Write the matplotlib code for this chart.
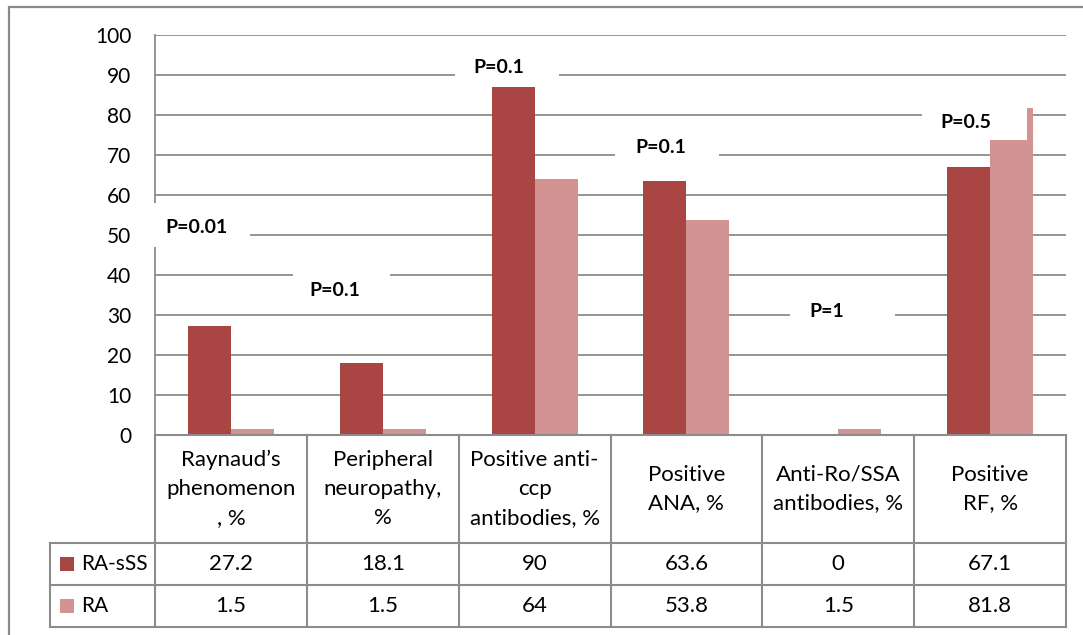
import matplotlib
matplotlib.use("Agg")
import matplotlib.pyplot as plt
from matplotlib.patches import Rectangle

plt.rcParams["font.family"] = ["Lato", "DejaVu Sans"]

# ----------------------------------------------------------------------
# データ
categories = [
    "Raynaud’s\nphenomenon\n, %",
    "Peripheral\nneuropathy,\n%",
    "Positive anti-\nccp\nantibodies, %",
    "Positive\nANA, %",
    "Anti-Ro/SSA\nantibodies, %",
    "Positive\nRF, %",
]
series_names = ["RA-sSS", "RA"]
ra_sss = [27.2, 18.1, 90, 63.6, 0, 67.1]
ra = [1.5, 1.5, 64, 53.8, 1.5, 81.8]
p_labels = ["P=0.01", "P=0.1", "P=0.1", "P=0.1", "P=1", "P=0.5"]
# テキストボックス（x0, x1, y0, y1: カテゴリ単位 / 値単位）と文字位置
p_boxes = [
    (-0.53, 0.126, 47.0, 58.0),
    (0.409, 1.048, 31.3, 42.5),
    (1.476, 2.161, 87.0, 96.2),
    (2.530, 3.215, 66.2, 76.8),
    (3.683, 4.375, 26.2, 36.2),
    (4.553, 5.244, 73.8, 85.0),
]
p_text_pos = [
    (-0.434, 51.8),
    (0.517, 36.2),
    (1.595, 91.8),
    (2.662, 71.8),
    (3.808, 30.8),
    (4.675, 78.2),
]

C_SSS = "#A94543"
C_RA = "#D39392"
GRID = "#8C8C8C"

W, H = 1083, 635
fig = plt.figure(figsize=(W / 100, H / 100), dpi=100)

# 外枠
fig.patches.append(Rectangle((9 / W, -0.05), 1.2, (H - 7) / H + 0.05,
                             transform=fig.transFigure, fill=False,
                             edgecolor="#8A8A8A", linewidth=1.6))

# ---------------- 棒グラフ ----------------
ax = fig.add_axes([155 / W, 200 / H, 911 / W, 400 / H])
n = len(categories)
xs = list(range(n))
bw = 43 / 151.83
ax.bar([x - bw / 2 for x in xs], ra_sss, width=bw, color=C_SSS, zorder=3)
ax.bar([x + bw / 2 for x in xs], ra, width=bw, color=C_RA, zorder=3)

ax.set_xlim(-0.5, n - 0.5)
ax.set_ylim(0, 100)
ax.set_yticks(range(0, 101, 10))
ax.set_xticks([])
ax.tick_params(axis="y", length=0, pad=17, labelsize=15)
ax.yaxis.grid(True, color=GRID, linewidth=1.3, zorder=0)
ax.set_axisbelow(True)
for s in ("top", "right", "bottom"):
    ax.spines[s].set_visible(False)
ax.spines["left"].set_color(GRID)
ax.spines["left"].set_linewidth(1.3)

for (x0, x1, y0, y1), lab, (tx, ty) in zip(p_boxes, p_labels, p_text_pos):
    ax.add_patch(Rectangle((x0, y0), x1 - x0, y1 - y0, facecolor="white",
                           edgecolor="none", zorder=4, clip_on=False))
    ax.text(tx, ty, lab, ha="left", va="center", fontsize=14,
            fontweight="bold", zorder=5)

# ---------------- データテーブル ----------------
tax = fig.add_axes([50 / W, 8 / H, 1016 / W, 192 / H])
left = -0.5 - 105 / 151.83
tax.set_xlim(left, n - 0.5)
tax.set_ylim(192, 0)
tax.axis("off")

lw = 1.5
for i in range(n + 1):
    tax.plot([i - 0.5, i - 0.5], [0, 192], color=GRID, lw=lw, clip_on=False)
tax.plot([left, left], [108, 192], color=GRID, lw=lw, clip_on=False)
tax.plot([-0.5, n - 0.5], [0, 0], color=GRID, lw=lw, clip_on=False)
for yy in (108, 150, 192):
    tax.plot([left, n - 0.5], [yy, yy], color=GRID, lw=lw, clip_on=False)

for i, cat in enumerate(categories):
    tax.text(i, 54, cat, ha="center", va="center", fontsize=16,
            linespacing=1.55)

for row_y, vals in ((129, ra_sss), (171, ra)):
    for i, v in enumerate(vals):
        tax.text(i, row_y, f"{v:g}", ha="center", va="center", fontsize=16)

key = 14 / 151.83
for row_y, name, col in ((129, series_names[0], C_SSS), (171, series_names[1], C_RA)):
    tax.add_patch(Rectangle((left + 10 / 151.83, row_y - 7), key, 14,
                            facecolor=col, edgecolor="none"))
    tax.text(left + 31 / 151.83, row_y, name, ha="left", va="center", fontsize=15)

fig.savefig("out.png", dpi=100)
